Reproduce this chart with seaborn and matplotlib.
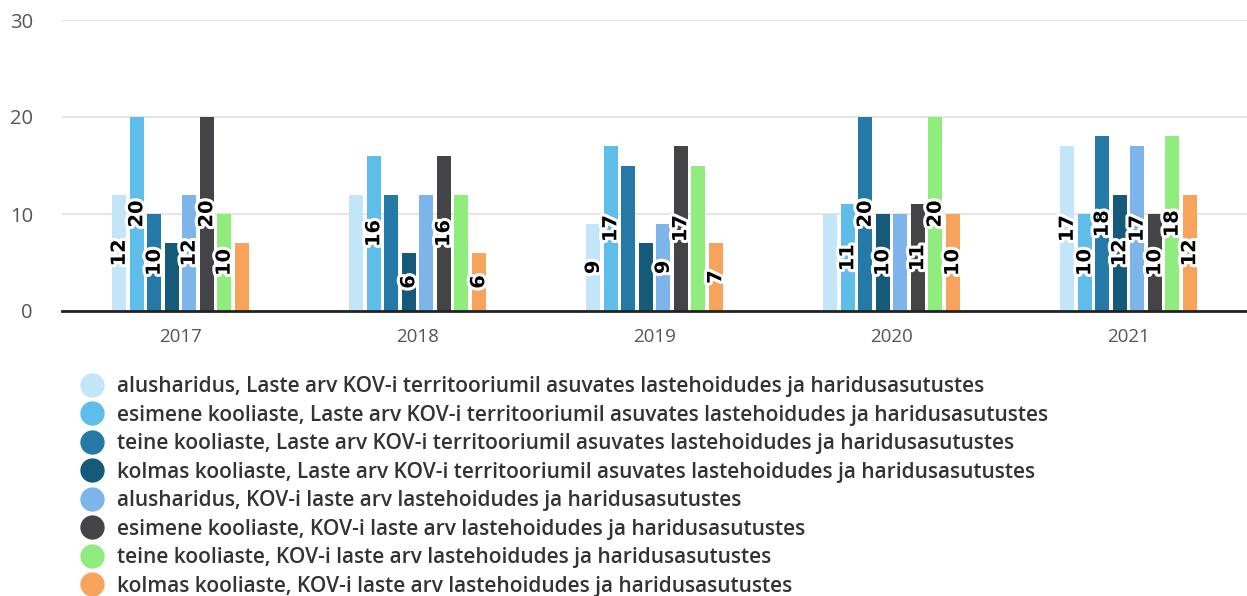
import matplotlib
matplotlib.use("Agg")
import matplotlib.pyplot as plt
import matplotlib.patheffects as pe
from matplotlib.lines import Line2D
import numpy as np
import pandas as pd
import seaborn as sns

# andmed
years = ["2017", "2018", "2019", "2020", "2021"]
series = [
    "alusharidus, Laste arv KOV-i territooriumil asuvates lastehoidudes ja haridusasutustes",
    "esimene kooliaste, Laste arv KOV-i territooriumil asuvates lastehoidudes ja haridusasutustes",
    "teine kooliaste, Laste arv KOV-i territooriumil asuvates lastehoidudes ja haridusasutustes",
    "kolmas kooliaste, Laste arv KOV-i territooriumil asuvates lastehoidudes ja haridusasutustes",
    "alusharidus, KOV-i laste arv lastehoidudes ja haridusasutustes",
    "esimene kooliaste, KOV-i laste arv lastehoidudes ja haridusasutustes",
    "teine kooliaste, KOV-i laste arv lastehoidudes ja haridusasutustes",
    "kolmas kooliaste, KOV-i laste arv lastehoidudes ja haridusasutustes",
]
values = [
    [12, 12, 9, 10, 17],
    [20, 16, 17, 11, 10],
    [10, 12, 15, 20, 18],
    [7, 6, 7, 10, 12],
    [12, 12, 9, 10, 17],
    [20, 16, 17, 11, 10],
    [10, 12, 15, 20, 18],
    [7, 6, 7, 10, 12],
]
# sildid, mis originaalis kattumise tõttu peidetud (seeria, aasta)
hidden = [(3, 0), (7, 0), (0, 1), (2, 1), (4, 1), (6, 1),
          (2, 2), (3, 2), (6, 2), (0, 3), (4, 3)]
colors = ["#c2e6f7", "#5fbde9", "#2479a7", "#155a78",
          "#7db4ea", "#434348", "#90ed7d", "#f7a35c"]

rows = []
for s, vals in zip(series, values):
    for y, v in zip(years, vals):
        rows.append({"year": y, "series": s, "value": v})
df = pd.DataFrame(rows)

sns.set_theme(style="white")
plt.rcParams['font.family'] = ['Open Sans', 'DejaVu Sans']

fig = plt.figure(figsize=(12.47, 5.96), dpi=100)
ax = fig.add_axes([62 / 1247, 1 - 311 / 596, 1 - 62 / 1247, (311 - 20) / 596])

sns.barplot(data=df, x="year", y="value", hue="series", palette=colors,
            width=0.59, gap=0.2, ax=ax, legend=False, saturation=1,
            linewidth=0, edgecolor="none")

ax.set_ylim(0, 30)
ax.set_xlim(-0.5, 4.5)
ax.set_yticks([0, 10, 20, 30])
ax.yaxis.grid(True, color="#e6e6e6", linewidth=1.5)
ax.set_axisbelow(True)
for sp in ["top", "right", "left"]:
    ax.spines[sp].set_visible(False)
ax.spines["bottom"].set_color("#222222")
ax.spines["bottom"].set_linewidth(2)
ax.set_xlabel("")
ax.set_ylabel("")
ax.tick_params(axis="y", labelsize=14.5, labelcolor="#555555", length=0, pad=21)
ax.tick_params(axis="x", labelsize=13.5, labelcolor="#555555", length=0, pad=12)

for i, cont in enumerate(ax.containers):
    labels = ["" if (i, j) in hidden else str(values[i][j]) for j in range(len(years))]
    texts = ax.bar_label(cont, labels=labels, label_type="center", rotation=90,
                         fontsize=14, fontweight="bold", color="black",
                         family="DejaVu Sans")
    for t in texts:
        t.set_path_effects([pe.withStroke(linewidth=4.5, foreground="white")])

handles = [Line2D([0], [0], marker="o", linestyle="", markersize=16.5,
                  markerfacecolor=c, markeredgecolor=c) for c in colors]
fig.legend(handles, series, loc="upper left", bbox_to_anchor=(0.0505, 0.383),
           frameon=False, labelspacing=0.36, handletextpad=0.2,
           borderaxespad=0, prop={"weight": "semibold", "size": 15},
           labelcolor="#333333")

fig.savefig("out.png", dpi=100)
